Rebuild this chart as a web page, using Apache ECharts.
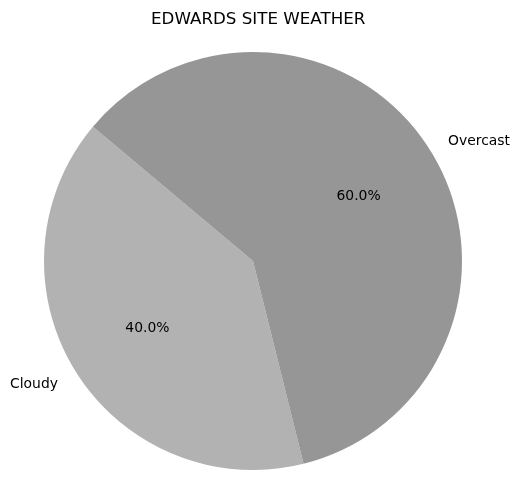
<!DOCTYPE html>
<html><head><meta charset="utf-8">
<script src="https://cdn.jsdelivr.net/npm/echarts@6/dist/echarts.min.js"></script>
<style>html,body{margin:0;padding:0;background:#fff}#c{width:520px;height:504px}</style>
</head><body><div id="c"></div>
<script>
const categories = ['Cloudy', 'Overcast'];
const values = [40, 60];
const colors = ['#b2b2b2', '#969696'];

const chart = echarts.init(document.getElementById('c'), null, {renderer: 'canvas'});
const data = categories.map((c, i) => ({name: c, value: values[i], itemStyle: {color: colors[i]}}));
const font = 'DejaVu Sans';
chart.setOption({
  animation: false,
  title: {text: 'EDWARDS SITE WEATHER', left: 146, top: 6,
    textStyle: {fontFamily: font, fontSize: 16.7, fontWeight: 'normal', color: '#000'}},
  series: [
    {type: 'pie', center: [253, 261], radius: [0, 209], startAngle: 140, clockwise: false,
     data: data, silent: true,
     label: {show: true, position: 'outside', formatter: '{b}', fontFamily: font, fontSize: 13.9, color: '#000', distanceToLabelLine: 0, offset: [0, 2]},
     labelLine: {show: false, length: 21, length2: 0},
     avoidLabelOverlap: false},
    {type: 'pie', center: [253, 261], radius: [34, 209], startAngle: 140, clockwise: false,
     data: data.map(d => ({name: d.name, value: d.value, itemStyle: {color: 'transparent'}})), silent: true,
     label: {show: true, position: 'inside', formatter: p => p.percent.toFixed(1) + '%', fontFamily: font, fontSize: 13.9, color: '#000', offset: [0, 1]},
     labelLine: {show: false}}
  ]
});
</script></body></html>
